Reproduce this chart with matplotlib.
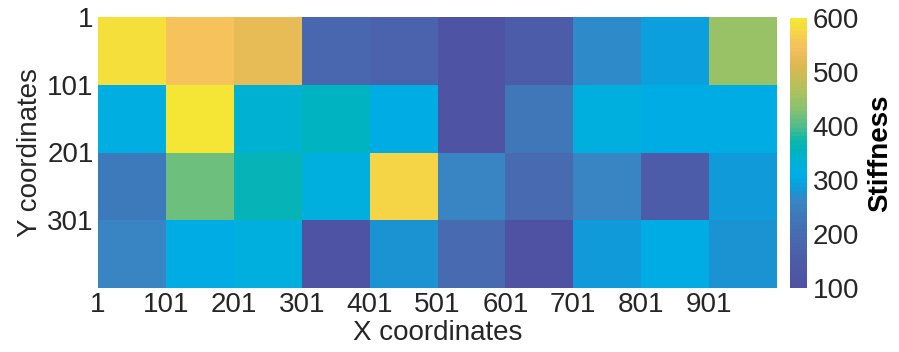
import numpy as np
import matplotlib
matplotlib.use("Agg")
import matplotlib.pyplot as plt
from matplotlib.colors import LinearSegmentedColormap

plt.rcParams['font.family'] = ['Liberation Sans', 'DejaVu Sans']

x_ticks = [1, 101, 201, 301, 401, 501, 601, 701, 801, 901]
y_ticks = [1, 101, 201, 301]
x_edges = [1, 101, 201, 301, 401, 501, 601, 701, 801, 901, 1001]
y_edges = [1, 101, 201, 301, 401]

row1 = [590, 550, 525, 190, 175, 110, 150, 265, 290, 445]
row2 = [315, 600, 335, 350, 310, 110, 230, 320, 305, 305]
row3 = [240, 415, 365, 320, 575, 262, 195, 258, 150, 280]
row4 = [258, 305, 325, 115, 275, 195, 105, 280, 305, 275]
stiffness = np.array([row1, row2, row3, row4])

cb_ticks = [100, 200, 300, 400, 500, 600]

cmap_colors = [
    (0.000, "#4F51A2"),
    (0.100, "#4C5DA8"),
    (0.180, "#4868AF"),
    (0.250, "#3F76B8"),
    (0.326, "#3886C4"),
    (0.355, "#1496D6"),
    (0.410, "#00ACE4"),
    (0.455, "#00B0DC"),
    (0.510, "#00B3C0"),
    (0.550, "#10B6A8"),
    (0.600, "#50BC8C"),
    (0.667, "#88C270"),
    (0.740, "#B0C25C"),
    (0.826, "#DCB850"),
    (0.900, "#F5C05E"),
    (0.955, "#F5D545"),
    (1.000, "#F5E535"),
]
cmap = LinearSegmentedColormap.from_list("stiff", cmap_colors, N=64)

fs = 20
fig = plt.figure(figsize=(8.99, 3.52), dpi=100)
ax = fig.add_axes([98/899, 1-288/352, (777-98)/899, (288-17)/352])
mesh = ax.pcolormesh(x_edges, y_edges, stiffness, cmap=cmap, vmin=100, vmax=600)
ax.set_xlim(1, 1001)
ax.set_ylim(401, 1)
ax.set_xticks(x_ticks)
ax.set_yticks(y_ticks)
ax.tick_params(length=0, labelsize=fs, colors='#262626', pad=3)
for s in ax.spines.values():
    s.set_visible(False)
ax.set_xlabel("X coordinates", fontsize=fs, color='#262626', labelpad=1)
ax.set_ylabel("Y coordinates", fontsize=fs, color='#262626', labelpad=3)

cax = fig.add_axes([790/899, 1-288/352, 17/899, (288-18)/352])
cb = fig.colorbar(mesh, cax=cax, ticks=cb_ticks)
cb.outline.set_visible(False)
cb.ax.tick_params(length=0, labelsize=fs, colors='#262626', pad=4)
cb.set_label("Stiffness", fontsize=fs, fontweight='bold', labelpad=6)

fig.savefig("out.png", dpi=100)
